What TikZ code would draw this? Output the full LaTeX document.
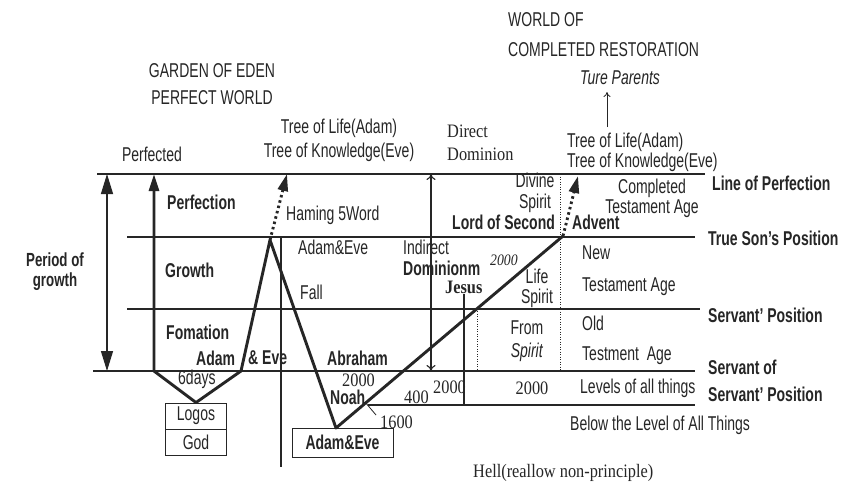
\documentclass[tikz,border=0pt]{standalone}
\usepackage{fontspec}
\setmainfont{Liberation Sans}[FakeStretch=0.7]
\newfontfamily\srffont{Liberation Serif}[FakeStretch=0.86]
\usetikzlibrary{arrows.meta}
\definecolor{ink}{HTML}{262626}
\tikzset{
  txt/.style={inner sep=0pt, text=ink, font=\fontsize{20}{21}\selectfont},
  btxt/.style={inner sep=0pt, text=ink, font=\fontsize{20}{21}\selectfont\bfseries},
  stxt/.style={inner sep=0pt, text=ink, font=\fontsize{19}{21}\selectfont\srffont},
  hline/.style={draw=ink, line width=1.3pt},
  vline/.style={draw=ink, line width=1.1pt},
  mainpath/.style={draw=ink, line width=2.9pt, line join=round},
  bigtip/.style={-{Triangle[length=17pt,width=10pt]}},
  dotpath/.style={draw=ink, line width=2.9pt, dash pattern=on 2.5pt off 3pt, -{Triangle[length=17pt,width=10pt]}},
  dotv/.style={draw=ink, line width=0.9pt, dash pattern=on 1pt off 1.5pt},
  boxnode/.style={draw=ink, line width=0.9pt, inner sep=0pt},
}
\begin{document}
\begin{tikzpicture}[x=1pt,y=-1pt]
\useasboundingbox[fill=white] (0,0) rectangle (847,485);

% horizontal level lines
\coordinate (lpL) at (97,174);  \coordinate (lpR) at (705,174);
\coordinate (tsL) at (127,237); \coordinate (tsR) at (695,237);
\coordinate (spL) at (127,309); \coordinate (spR) at (700,309);
\coordinate (ssL) at (93,371);  \coordinate (ssR) at (695,371);
\coordinate (blL) at (368,405); \coordinate (blR) at (695,405);
\draw[hline] (lpL) -- (lpR);
\draw[hline] (tsL) -- (tsR);
\draw[hline] (spL) -- (spR);
\draw[hline] (ssL) -- (ssR);
\draw[hline] (blL) -- (blR);

% boxes
\node[boxnode, minimum width=61pt, minimum height=26pt, txt] (logos) at (196,416) {Logos};
\node[boxnode, minimum width=61pt, minimum height=26pt, txt] (god) at (196,442) {God};
\node[boxnode, minimum width=101pt, minimum height=29pt, btxt] (aebox) at (342.5,442.5) {Adam\&Eve};

% period of growth
\coordinate (pgT) at (107,174); \coordinate (pgB) at (107,371);
\draw[draw=ink, line width=1.3pt, {Triangle[length=20pt,width=12pt]}-{Triangle[length=20pt,width=12pt]}] (pgT) -- (pgB);

% main growth / fall / restoration path
\coordinate (pf) at (154,174);
\coordinate (v1) at (154,371);
\coordinate (v3) at (241,371);
\coordinate (pk) at (270,240);
\coordinate (ae) at (336,428);
\coordinate (ad) at (563,236);
\draw[mainpath, bigtip] (ad) -- (ae) -- (pk) -- (v3) -- (logos.north) -- (v1) -- (pf);
\coordinate (pkT) at (287,174);
\coordinate (adT) at (578,176);
\draw[dotpath] (pk) -- (pkT);
\draw[dotpath] (ad) -- (adT);

% other verticals
\coordinate (vlT) at (281,237); \coordinate (vlB) at (281,467);
\draw[vline] (vlT) -- (vlB);
\coordinate (ddT) at (431,174); \coordinate (ddB) at (431,371);
\draw[vline, {To[length=6pt,width=9pt]}-{To[length=6pt,width=9pt]}] (ddT) -- (ddB);
\coordinate (d1T) at (477,311); \coordinate (d1B) at (477,371);
\draw[dotv] (d1T) -- (d1B);
\coordinate (d2T) at (560,174); \coordinate (d2B) at (560,371);
\draw[dotv] (d2T) -- (d2B);
\coordinate (tk1) at (365,402); \coordinate (tk2) at (376,415);
\draw[draw=ink, line width=0.8pt] (tk1) -- (tk2);

% texts
\node[txt, align=center, font=\fontsize{20}{27}\selectfont] (ge) at (212,84) {GARDEN OF EDEN\\PERFECT WORLD};
\node[txt] (perfected) at (152,154) {Perfected};
\node[txt, align=center, font=\fontsize{20}{24}\selectfont] (treeL) at (339,140) {Tree of Life(Adam)\\Tree of Knowledge(Eve)};
\node[stxt, anchor=west, align=left, font=\fontsize{19}{23}\selectfont\srffont] (direct) at (447,143) {Direct\\Dominion};
\node[txt, anchor=west, align=left, font=\fontsize{20}{30}\selectfont] (world) at (508,35) {WORLD OF\\COMPLETED RESTORATION};
\node[txt, font=\fontsize{20}{21}\selectfont\itshape] (ture) at (620,78) {Ture Parents};
\node[txt, anchor=west, align=left, font=\fontsize{20}{20}\selectfont] (treeR) at (567,152) {Tree of Life(Adam)\\Tree of Knowledge(Eve)};
\coordinate (taB) at (607,127); \coordinate (taT) at (607,92);
\draw[draw=ink, line width=0.8pt, -{To[length=5pt,width=7pt]}] (taB) -- (taT);

\node[txt, align=center] (divine) at (535,193) {Divine\\Spirit};
\node[btxt, anchor=west] (lord) at (452,222) {Lord of Second};
\node[btxt, anchor=west] (advent) at (572,222) {Advent};
\node[txt, align=center, font=\fontsize{20}{20}\selectfont] (completed) at (652,198) {Completed\\Testament Age};

\node[btxt, anchor=west] (lineperf) at (712,183) {Line of Perfection};
\node[btxt, anchor=west] (trueson) at (708,238) {True Son's Position};
\node[btxt, anchor=west] (servant) at (708,315) {Servant' Position};
\node[btxt, anchor=west, align=left, font=\fontsize{20}{27}\selectfont\bfseries] (sos) at (708,381) {Servant of\\Servant' Position};

\node[btxt, anchor=west] (perfection) at (167,202) {Perfection};
\node[btxt, anchor=west] (growth) at (165,270) {Growth};
\node[btxt, anchor=west] (fomation) at (166,332) {Fomation};
\node[btxt, align=center, font=\fontsize{19}{20}\selectfont\bfseries] (period) at (55,272) {Period of\\growth};
\node[btxt, anchor=west] (adam) at (196,358) {Adam};
\node[btxt, anchor=west] (eve) at (248,358) {\& Eve};
\node[txt, anchor=west] (sixdays) at (178,379) {6days};

\node[txt, anchor=west] (haming) at (286,215) {Haming 5Word};
\node[txt, anchor=west] (adameve) at (298,247) {Adam\&Eve};
\node[txt, anchor=west] (fall) at (300,292) {Fall};
\node[txt, anchor=west] (indirect) at (403,247) {Indirect};
\node[btxt, anchor=west] (dominionm) at (403,268) {Dominionm};
\node[stxt, anchor=west, font=\fontsize{16}{17}\selectfont\srffont\itshape] (ntwo) at (490,260) {2000};
\node[stxt, anchor=west, font=\fontsize{19}{21}\selectfont\srffont\bfseries] (jesus) at (445,287) {Jesus};
\coordinate (jb) at (464,405);
\draw[vline] (jesus.south -| jb) -- (jb);
\node[txt, align=center, font=\fontsize{20}{20}\selectfont] (life) at (537,288) {Life\\Spirit};
\node[txt, anchor=west, align=left, font=\fontsize{20}{32}\selectfont] (newta) at (582,271) {New\\Testament Age};
\node[txt, align=center, font=\fontsize{20}{23}\selectfont] (from) at (527,341) {From\\\textit{Spirit}};
\node[txt, anchor=west, align=left, font=\fontsize{20}{30}\selectfont] (old) at (582,340) {Old\\Testment\ \ Age};
\node[stxt] (nlev) at (532,388) {2000};
\node[txt, anchor=west] (levels) at (580,388) {Levels of all things};
\node[txt, anchor=west] (below) at (570,425) {Below the Level of All Things};
\node[stxt, anchor=west] (hell) at (473,473) {Hell(reallow non-principle)};

\node[btxt, anchor=west] (abraham) at (327,358) {Abraham};
\node[stxt, anchor=west] (nab) at (342,380) {2000};
\node[btxt, anchor=west] (noah) at (330,397) {Noah};
\node[stxt, anchor=west] (nfour) at (404,397) {400};
\node[stxt, anchor=west] (njs) at (433,387) {2000};
\node[stxt, anchor=west] (nsix) at (380,422) {1600};
\end{tikzpicture}
\end{document}
